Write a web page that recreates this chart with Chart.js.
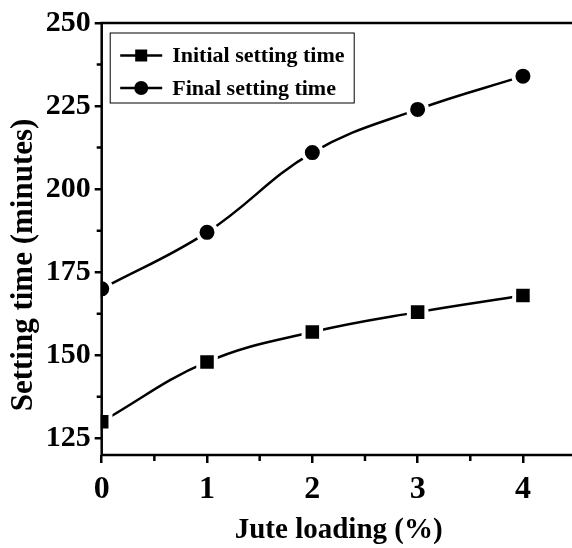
<!DOCTYPE html>
<html>
<head>
<meta charset="utf-8">
<script src="https://cdn.jsdelivr.net/npm/chart.js@4.4.1/dist/chart.umd.min.js"></script>
<style>
    html, body { margin: 0; padding: 0; background: #fff; overflow: hidden; }
    #wrap { width: 592px; height: 548px; }
</style>
</head>
<body>
<div id="wrap"><canvas id="settingChart" width="592" height="548"></canvas></div>
<script>
const juteLoading = [0, 1, 2, 3, 4];
const initialSetting = [130, 148, 157, 163, 168];
const finalSetting = [170, 187, 211, 224, 234];
const xTickValues = [0, 1, 2, 3, 4];
const yTickValues = [125, 150, 175, 200, 225, 250];
const xMinorTicks = [0.5, 1.5, 2.5, 3.5];
const yMinorTicks = [137.5, 162.5, 187.5, 212.5, 237.5];
const yTitle = 'Setting time (minutes)';

const serif = '"Liberation Serif", "Times New Roman", serif';
Chart.defaults.font.family = serif;
Chart.defaults.font.weight = 'bold';
Chart.defaults.color = '#000';

// axis lines and minor ticks, drawn after the curves so markers don't eat them
const framePlugin = {
    id: 'frame',
    afterDatasetsDraw(chart) {
        const ctx = chart.ctx, a = chart.chartArea;
        const xs = chart.scales.x, ys = chart.scales.y;
        ctx.save();
        ctx.strokeStyle = '#000';
        ctx.lineWidth = 2.5;
        ctx.beginPath();
        ctx.moveTo(a.left, a.top - 1.25);
        ctx.lineTo(a.left, a.bottom + 1.25);
        ctx.moveTo(a.left, a.bottom);
        ctx.lineTo(a.right, a.bottom);
        ctx.moveTo(a.left, a.top);
        ctx.lineTo(a.right, a.top);
        xMinorTicks.forEach(v => {
            const px = xs.getPixelForValue(v);
            ctx.moveTo(px, a.bottom);
            ctx.lineTo(px, a.bottom + 6);
        });
        yMinorTicks.forEach(v => {
            const py = ys.getPixelForValue(v);
            ctx.moveTo(a.left, py);
            ctx.lineTo(a.left - 5, py);
        });
        ctx.stroke();

        // y title sits a bit below the middle of the axis in the original
        ctx.translate(24, (a.top + a.bottom) / 2 + 26);
        ctx.rotate(-Math.PI / 2);
        ctx.font = 'bold 31px ' + serif;
        ctx.fillStyle = '#000';
        ctx.textAlign = 'center';
        ctx.textBaseline = 'middle';
        ctx.fillText(yTitle, 0, 0);
        ctx.restore();
    }
};

// boxed legend inside the plot, line + marker like the original
const legendPlugin = {
    id: 'boxLegend',
    afterDraw(chart) {
        const ctx = chart.ctx, a = chart.chartArea;
        const bx = a.left + 8.5, by = a.top + 10;
        ctx.save();
        ctx.strokeStyle = '#000';
        ctx.lineWidth = 1;
        ctx.strokeRect(bx, by, 244, 70);
        chart.data.datasets.forEach((ds, i) => {
            const cy = by + 22.5 + i * 32.5;
            ctx.lineWidth = 2.5;
            ctx.beginPath();
            ctx.moveTo(bx + 10, cy);
            ctx.lineTo(bx + 52, cy);
            ctx.stroke();
            ctx.fillStyle = '#000';
            if (ds.pointStyle === 'rect') {
                ctx.fillRect(bx + 31 - 6, cy - 6, 12, 12);
            } else {
                ctx.beginPath();
                ctx.arc(bx + 31, cy, 7, 0, Math.PI * 2);
                ctx.fill();
            }
            ctx.font = 'bold 22px ' + serif;
            ctx.textBaseline = 'middle';
            ctx.fillText(ds.label, bx + 62, cy + 1);
        });
        ctx.restore();
    }
};

new Chart(document.getElementById('settingChart'), {
    type: 'line',
    data: {
        labels: juteLoading,
        datasets: [{
            label: 'Initial setting time',
            data: juteLoading.map((x, i) => ({ x: x, y: initialSetting[i] })),
            borderColor: '#000',
            borderWidth: 2.5,
            tension: 0.4,
            pointStyle: 'rect',
            pointRadius: 12.4,
            pointBackgroundColor: '#000',
            pointBorderColor: '#fff',
            pointBorderWidth: 4,
            clip: { left: 1, top: 20, right: 20, bottom: 0 }
        }, {
            label: 'Final setting time',
            data: juteLoading.map((x, i) => ({ x: x, y: finalSetting[i] })),
            borderColor: '#000',
            borderWidth: 2.5,
            tension: 0.4,
            pointStyle: 'circle',
            pointRadius: 9.5,
            pointBackgroundColor: '#000',
            pointBorderColor: '#fff',
            pointBorderWidth: 4,
            clip: { left: 1, top: 20, right: 20, bottom: 0 }
        }]
    },
    options: {
        responsive: false,
        animation: false,
        events: [],
        layout: { padding: { top: 23, right: 0, bottom: 0, left: 0 } },
        plugins: {
            legend: { display: false },
            tooltip: { enabled: false }
        },
        scales: {
            x: {
                type: 'linear',
                min: 0,
                max: 4.5,
                afterFit(scale) { scale.height = 93; },
                afterBuildTicks(scale) { scale.ticks = xTickValues.map(v => ({ value: v })); },
                border: { display: false },
                grid: {
                    drawOnChartArea: false,
                    drawTicks: true,
                    tickLength: 8,
                    lineWidth: 2.5,
                    color: '#000'
                },
                ticks: {
                    padding: 8,
                    maxRotation: 0,
                    font: { size: 32, weight: 'bold' },
                    color: '#000'
                },
                title: {
                    display: true,
                    text: 'Jute loading (%)',
                    font: { size: 29, weight: 'bold' },
                    color: '#000',
                    padding: { top: 0, bottom: 0 }
                }
            },
            y: {
                min: 120,
                max: 250,
                afterFit(scale) { scale.width = 101.7; },
                afterBuildTicks(scale) { scale.ticks = yTickValues.map(v => ({ value: v })); },
                border: { display: false },
                grid: {
                    drawOnChartArea: false,
                    drawTicks: true,
                    tickLength: 7,
                    lineWidth: 2.5,
                    color: '#000'
                },
                ticks: {
                    padding: 4,
                    font: { size: 30, weight: 'bold' },
                    color: '#000'
                },
                title: { display: false }
            }
        }
    },
    plugins: [framePlugin, legendPlugin]
});
</script>
</body>
</html>
